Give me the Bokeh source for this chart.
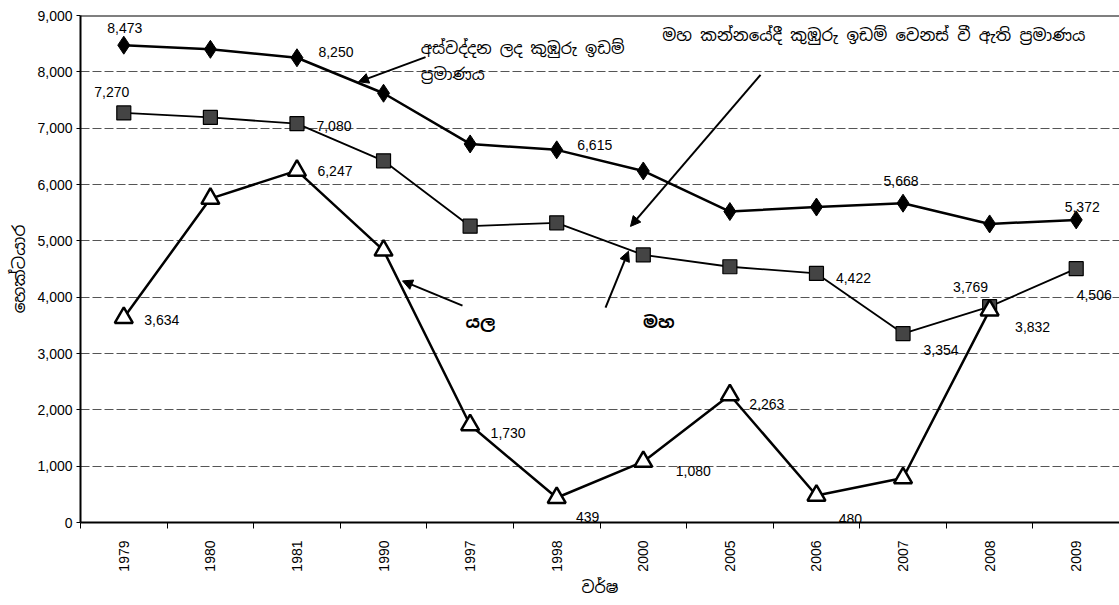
from bokeh.plotting import figure
from bokeh.models import (ColumnDataSource, FixedTicker, NumeralTickFormatter,
                          CustomJSTickFormatter, Arrow, NormalHead, Span)
from bokeh.core.properties import value
from bokeh.embed import file_html
from bokeh.resources import INLINE

# ---------------- data ----------------
years = ["1979", "1980", "1981", "1990", "1997", "1998",
         "2000", "2005", "2006", "2007", "2008", "2009"]
total_area = [8473, 8400, 8250, 7620, 6720, 6615, 6240, 5520, 5600, 5668, 5300, 5372]
maha_area = [7270, 7190, 7080, 6420, 5260, 5320, 4750, 4540, 4422, 3354, 3832, 4506]
yala_area = [3634, 5750, 6247, 4830, 1730, 439, 1080, 2263, 480, 790, 3769]

# which points carry a value label (index -> pixel offset of label)
total_lbl = {0: (1, -17), 2: (39, -6), 5: (38, -5), 9: (-2, -22), 11: (6, -13)}
maha_lbl = {0: (-12, -21), 2: (37, 2), 8: (37, 5), 9: (38, 16), 10: (43, 20), 11: (18, 26)}
yala_lbl = {0: (38, 2), 2: (38, 0), 4: (38, 8), 5: (31, 19), 6: (50, 9), 7: (37, 9),
            8: (34, 24), 10: (-19, -23)}

y_title = "හෙක්ටයාර"
x_title = "වර්ෂ"
note_total = ["අස්වද්දන ලද කුඹුරු ඉඩම්", "ප්‍රමාණය"]
note_maha_change = "මහ කන්නයේදී කුඹුරු ඉඩම්  වෙනස් වී ඇති ප්‍රමාණය"
note_yala = "යල"
note_maha = "මහ"

SIN_NAME = "Noto Sans Sinhala, Noto Sans, sans-serif"
SIN = value(SIN_NAME)
NUM = "Liberation Sans"

p = figure(width=1119, height=600, x_range=(0, 12), y_range=(0, 9000),
           output_backend="svg", toolbar_location=None,
           min_border_left=80, min_border_right=0, min_border_top=15,
           min_border_bottom=73)
p.outline_line_color = None
p.background_fill_color = "white"
p.border_fill_color = "white"

# grid
p.xgrid.grid_line_color = None
p.ygrid.grid_line_color = "#555555"
p.ygrid.grid_line_dash = "9 3"
p.ygrid.grid_line_width = 1
p.ygrid.ticker = FixedTicker(ticks=list(range(0, 9001, 1000)))
p.add_layout(Span(location=9000, dimension="width", line_color="black", line_width=2))

# y axis
p.yaxis.ticker = FixedTicker(ticks=list(range(0, 9001, 1000)))
p.yaxis.formatter = NumeralTickFormatter(format="0,0")
p.yaxis.axis_line_width = 2
p.yaxis.axis_line_color = "black"
p.yaxis.major_tick_out = 4
p.yaxis.major_tick_in = 0
p.yaxis.minor_tick_line_color = None
p.yaxis.major_label_text_font = NUM
p.yaxis.major_label_text_font_size = "14px"
p.yaxis.major_label_text_color = "black"
p.yaxis.major_label_standoff = 4
p.yaxis.axis_label = y_title
p.yaxis.axis_label_text_font = SIN_NAME
p.yaxis.axis_label_text_font_size = "17px"
p.yaxis.axis_label_text_font_style = "normal"
p.yaxis.axis_label_text_color = "black"
p.yaxis.axis_label_standoff = 4

# x axis: labels at category centres, tick marks at boundaries
centers = [i + 0.5 for i in range(len(years))]
p.xaxis.ticker = FixedTicker(ticks=centers, minor_ticks=list(range(len(years) + 1)))
p.xaxis.formatter = CustomJSTickFormatter(args=dict(labels=years),
                                          code="return labels[Math.floor(tick)];")
p.xaxis.axis_line_width = 2
p.xaxis.axis_line_color = "black"
p.xaxis.major_tick_line_color = None
p.xaxis.minor_tick_line_color = "black"
p.xaxis.minor_tick_out = 6
p.xaxis.minor_tick_in = 0
p.xaxis.major_label_orientation = 3.14159265 / 2
p.xaxis.major_label_text_font = NUM
p.xaxis.major_label_text_font_size = "14px"
p.xaxis.major_label_text_color = "black"
p.xaxis.major_label_standoff = 12
p.xaxis.axis_label = x_title
p.xaxis.axis_label_text_font = SIN_NAME
p.xaxis.axis_label_text_font_size = "16px"
p.xaxis.axis_label_text_font_style = "normal"
p.xaxis.axis_label_text_color = "black"
p.xaxis.axis_label_standoff = 2

# series
def series_source(vals):
    return ColumnDataSource(dict(x=centers[:len(vals)], y=vals))

s_tot = series_source(total_area)
s_maha = series_source(maha_area)
s_yala = series_source(yala_area)

p.line("x", "y", source=s_tot, line_color="black", line_width=2.5)
p.scatter("x", "y", source=s_tot, marker="diamond", size=18,
          fill_color="black", line_color="black")

p.line("x", "y", source=s_maha, line_color="black", line_width=1.8)
p.scatter("x", "y", source=s_maha, marker="square", size=14,
          fill_color="#444444", line_color="black", line_width=1.2)

p.line("x", "y", source=s_yala, line_color="black", line_width=2.5)
p.scatter("x", "y", source=s_yala, marker="triangle", size=18,
          fill_color="white", line_color="black", line_width=2.5)

# value labels
def label_source(vals, lbl):
    idx = sorted(lbl)
    return ColumnDataSource(dict(
        x=[centers[i] for i in idx], y=[vals[i] for i in idx],
        t=[f"{vals[i]:,}" for i in idx],
        dx=[lbl[i][0] for i in idx], dy=[lbl[i][1] for i in idx]))

for vals, lbl in ((total_area, total_lbl), (maha_area, maha_lbl), (yala_area, yala_lbl)):
    p.text("x", "y", text="t", source=label_source(vals, lbl), x_offset="dx", y_offset="dy",
           text_font=value(NUM), text_font_size="14px", text_color="black",
           text_align="center", text_baseline="middle")

# annotations
def note(x, y, txt, size="16px", align="left", style="normal"):
    p.text(x=[x], y=[y], text=[txt], text_font=SIN, text_font_size=size,
           text_color="black", text_align=align, text_baseline="middle",
           text_font_style=style)

note(3.93, 8420, note_total[0])
note(3.93, 7945, note_total[1])
note(6.72, 8648, note_maha_change, size="16.5px")
note(4.62, 3551, note_yala, size="17px", align="center", style="bold")
note(6.68, 3551, note_maha, size="17px", align="center", style="bold")

for (xs, ys, xe, ye) in [(3.985, 8262, 3.211, 7822),
                         (7.854, 7945, 6.352, 5256),
                         (4.412, 3850, 3.719, 4289),
                         (6.064, 3814, 6.329, 4816)]:
    p.add_layout(Arrow(x_start=xs, y_start=ys, x_end=xe, y_end=ye,
                       line_color="black", line_width=2,
                       end=NormalHead(size=10, fill_color="black", line_color="black")))

open("out.html", "w").write(file_html(p, INLINE))
